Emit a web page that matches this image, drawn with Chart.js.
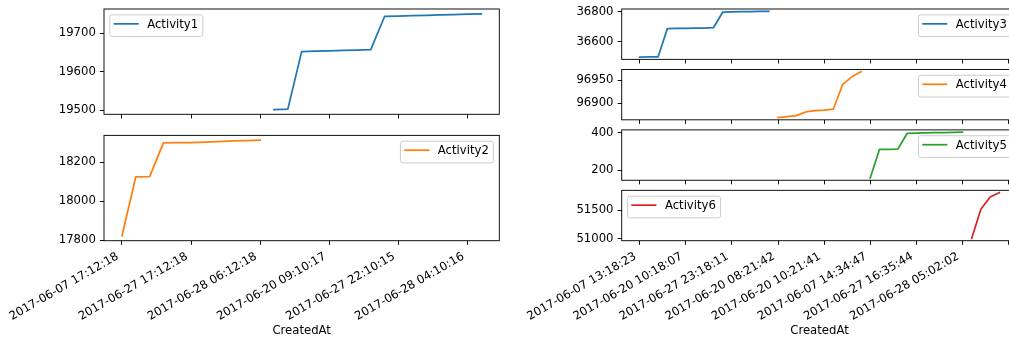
<!DOCTYPE html>
<html>
<head>
<meta charset="utf-8">
<title>Activity by CreatedAt</title>
<script src="https://cdn.jsdelivr.net/npm/chart.js@4/dist/chart.umd.min.js"></script>
<style>
  html, body { margin: 0; padding: 0; background: #fff; }
  #fig { position: relative; width: 1009px; height: 338px; overflow: hidden; background: #fff; }
  #fig canvas { position: absolute; }
</style>
</head>
<body>
<div id="fig"></div>
<script>
// ---- x axis rows (shared index of each column) ----
const leftRowCount = 27;
const leftTickRows = [0, 5, 10, 15, 20, 25];
const leftTickLabels = [
  '2017-06-07 17:12:18', '2017-06-27 17:12:18', '2017-06-28 06:12:18',
  '2017-06-20 09:10:17', '2017-06-27 22:10:15', '2017-06-28 04:10:16'
];

const rightRowCount = 40;
const rightTickRows = [0, 5, 10, 15, 20, 25, 30, 35, 40];
const rightTickLabels = [
  '2017-06-07 13:18:23', '2017-06-20 10:18:07', '2017-06-27 23:18:11',
  '2017-06-20 08:21:42', '2017-06-20 10:21:41', '2017-06-07 14:34:47',
  '2017-06-27 16:35:44', '2017-06-28 05:02:02', ''
];

// ---- series (first row of each series, then its values) ----
const activity1Start = 11;
const activity1 = [19502, 19503, 19652, 19653, 19654, 19655, 19656, 19657,
                   19743, 19744, 19745, 19746, 19747, 19748, 19749, 19750];

const activity2Start = 0;
const activity2 = [17823, 18125, 18126, 18298, 18299, 18300, 18302, 18305, 18308, 18310, 18312];

const activity3Start = 0;
const activity3 = [36498, 36499, 36500, 36687, 36688, 36689, 36690, 36691,
                   36693, 36796, 36798, 36799, 36800, 36801, 36802];

const activity4Start = 15;
const activity4 = [96869, 96871, 96873, 96881, 96884, 96885, 96887, 96940, 96957, 96968];

const activity5Start = 25;
const activity5 = [158, 310, 311, 312, 395, 397, 398, 399, 400, 401, 402];

const activity6Start = 36;
const activity6 = [51007, 51517, 51732, 51808];

// ---- y tick values ----
const activity1Ticks = [19500, 19600, 19700];
const activity2Ticks = [17800, 18000, 18200];
const activity3Ticks = [36600, 36800];
const activity4Ticks = [96900, 96950];
const activity5Ticks = [200, 400];
const activity6Ticks = [51000, 51500];

// ---- styling ----
const FS = 11.67;          // 10 pt text
const FONT_FAMILY = '"DejaVu Sans", "Liberation Sans", sans-serif';
const LINE_W = 1.75;       // 1.5 pt lines
const SPINE_W = 0.93;      // 0.8 pt spines / ticks
const TICK_LEN = 4.1;
const TICK_PAD = 4.1;
const TEXT_COLOR = '#000';

const FIG_H = 338;
const TOP = 9.0, BOTTOM = 240.7, HSPACE = 0.2;
const COLUMNS = {
  left:  { left: 104.0, right: 499.3,  canvasLeft: 0,   canvasWidth: 505, rows: 2,
           rowCount: leftRowCount, tickRows: leftTickRows, tickLabels: leftTickLabels },
  right: { left: 621.7, right: 1017.3, canvasLeft: 515, canvasWidth: 510, rows: 4,
           rowCount: rightRowCount, tickRows: rightTickRows, tickLabels: rightTickLabels }
};

function rowBox(col, i) {
  const c = COLUMNS[col];
  const h = (BOTTOM - TOP) / (c.rows + (c.rows - 1) * HSPACE);
  const top = TOP + i * h * (1 + HSPACE);
  return { left: c.left, right: c.right, top: top, bottom: top + h };
}

// Full rectangular frame around the plotting area
const mplFrame = {
  id: 'mplFrame',
  afterDatasetsDraw(chart) {
    const { ctx, chartArea: a } = chart;
    ctx.save();
    ctx.strokeStyle = '#000';
    ctx.lineWidth = SPINE_W;
    ctx.strokeRect(a.left, a.top, a.right - a.left, a.bottom - a.top);
    ctx.restore();
  }
};

// Boxed legend drawn inside the plotting area
const mplLegend = {
  id: 'mplLegend',
  afterDraw(chart, args, opts) {
    const { ctx, chartArea: a } = chart;
    const ds = chart.data.datasets[0];
    ctx.save();
    ctx.font = FS + 'px ' + FONT_FAMILY;
    const tw = ctx.measureText(ds.label).width;
    const w = 0.4 * FS + 2 * FS + 0.8 * FS + tw + 0.4 * FS;
    const h = 21.7;
    const x = opts.loc === 'upper left' ? a.left + 0.5 * FS : a.right - 0.5 * FS - w;
    const y = a.top + 0.5 * FS;
    ctx.beginPath();
    ctx.roundRect(x, y, w, h, 0.2 * FS);
    ctx.fillStyle = 'rgba(255,255,255,0.8)';
    ctx.fill();
    ctx.lineWidth = 1;
    ctx.strokeStyle = '#cccccc';
    ctx.stroke();
    const hx = x + 0.4 * FS;
    ctx.beginPath();
    ctx.moveTo(hx, y + 9.0);
    ctx.lineTo(hx + 2 * FS, y + 9.0);
    ctx.strokeStyle = ds.borderColor;
    ctx.lineWidth = LINE_W;
    ctx.lineCap = 'square';
    ctx.stroke();
    ctx.fillStyle = TEXT_COLOR;
    ctx.textBaseline = 'alphabetic';
    ctx.textAlign = 'left';
    ctx.fillText(ds.label, hx + 2.8 * FS, y + 13.2);
    ctx.restore();
  }
};

const panels = [
  { col: 'left',  row: 0, label: 'Activity1', values: activity1, start: activity1Start, color: '#1f77b4', yTicks: activity1Ticks, loc: 'upper left' },
  { col: 'left',  row: 1, label: 'Activity2', values: activity2, start: activity2Start, color: '#ff7f0e', yTicks: activity2Ticks, loc: 'upper right', xLabels: true },
  { col: 'right', row: 0, label: 'Activity3', values: activity3, start: activity3Start, color: '#1f77b4', yTicks: activity3Ticks, loc: 'upper right' },
  { col: 'right', row: 1, label: 'Activity4', values: activity4, start: activity4Start, color: '#ff7f0e', yTicks: activity4Ticks, loc: 'upper right' },
  { col: 'right', row: 2, label: 'Activity5', values: activity5, start: activity5Start, color: '#2ca02c', yTicks: activity5Ticks, loc: 'upper right' },
  { col: 'right', row: 3, label: 'Activity6', values: activity6, start: activity6Start, color: '#d62728', yTicks: activity6Ticks, loc: 'upper left', xLabels: true }
];

const fig = document.getElementById('fig');
const tickFont = { family: FONT_FAMILY, size: FS, lineHeight: 1.2 };
const YW = 100;

panels.forEach(p => {
  const c = COLUMNS[p.col];
  const area = rowBox(p.col, p.row);
  const isBottom = !!p.xLabels;
  const canvasTop = Math.max(0, Math.floor(area.top) - 6);
  const XH = isBottom ? (FIG_H - area.bottom) : 6;
  const canvasH = isBottom ? FIG_H - canvasTop : Math.ceil(area.bottom + XH + 2) - canvasTop;
  const padding = {
    left: area.left - c.canvasLeft - YW,
    right: c.canvasLeft + c.canvasWidth - area.right,
    top: area.top - canvasTop,
    bottom: canvasH - (area.bottom - canvasTop) - XH
  };

  const canvas = document.createElement('canvas');
  canvas.width = c.canvasWidth;
  canvas.height = canvasH;
  canvas.style.left = c.canvasLeft + 'px';
  canvas.style.top = canvasTop + 'px';
  canvas.style.width = c.canvasWidth + 'px';
  canvas.style.height = canvasH + 'px';
  fig.appendChild(canvas);

  const n = c.rowCount - 1;
  const yMinData = Math.min(...p.values), yMaxData = Math.max(...p.values);
  const ySpan = yMaxData - yMinData;

  new Chart(canvas, {
    type: 'line',
    data: {
      datasets: [{
        label: p.label,
        data: p.values.map((v, i) => ({ x: p.start + i, y: v })),
        borderColor: p.color,
        backgroundColor: p.color,
        borderWidth: LINE_W,
        pointRadius: 0,
        pointHoverRadius: 0,
        tension: 0,
        fill: false,
        borderCapStyle: 'square',
        borderJoinStyle: 'round'
      }]
    },
    options: {
      responsive: false,
      animation: false,
      devicePixelRatio: 1,
      events: [],
      layout: { padding: padding },
      plugins: {
        legend: { display: false },
        tooltip: { enabled: false },
        mplLegend: { loc: p.loc }
      },
      scales: {
        x: {
          type: 'linear',
          min: -0.05 * n,
          max: 1.05 * n,
          afterBuildTicks: s => { s.ticks = c.tickRows.map(v => ({ value: v })); },
          afterFit: s => { s.height = XH; s.paddingLeft = 0; s.paddingRight = 0; },
          border: { display: false },
          grid: { drawOnChartArea: false, drawTicks: true, tickLength: TICK_LEN, color: '#000', lineWidth: SPINE_W },
          ticks: {
            display: isBottom,
            autoSkip: false,
            minRotation: 30,
            maxRotation: 30,
            padding: 4.9,
            labelOffset: -4.2,
            color: TEXT_COLOR,
            font: tickFont,
            callback: (v, i) => c.tickLabels[i]
          },
          title: {
            display: isBottom,
            text: 'CreatedAt',
            color: TEXT_COLOR,
            font: tickFont,
            padding: { top: 0, bottom: 0 }
          }
        },
        y: {
          type: 'linear',
          min: yMinData - 0.05 * ySpan,
          max: yMaxData + 0.05 * ySpan,
          afterBuildTicks: s => { s.ticks = p.yTicks.map(v => ({ value: v })); },
          afterFit: s => { s.width = YW; s.paddingTop = 0; s.paddingBottom = 0; },
          border: { display: false },
          grid: { drawOnChartArea: false, drawTicks: true, tickLength: TICK_LEN, color: '#000', lineWidth: SPINE_W },
          ticks: {
            autoSkip: false,
            padding: TICK_PAD,
            color: TEXT_COLOR,
            font: tickFont,
            callback: v => String(v)
          }
        }
      }
    },
    plugins: [mplFrame, mplLegend]
  });
});
</script>
</body>
</html>
